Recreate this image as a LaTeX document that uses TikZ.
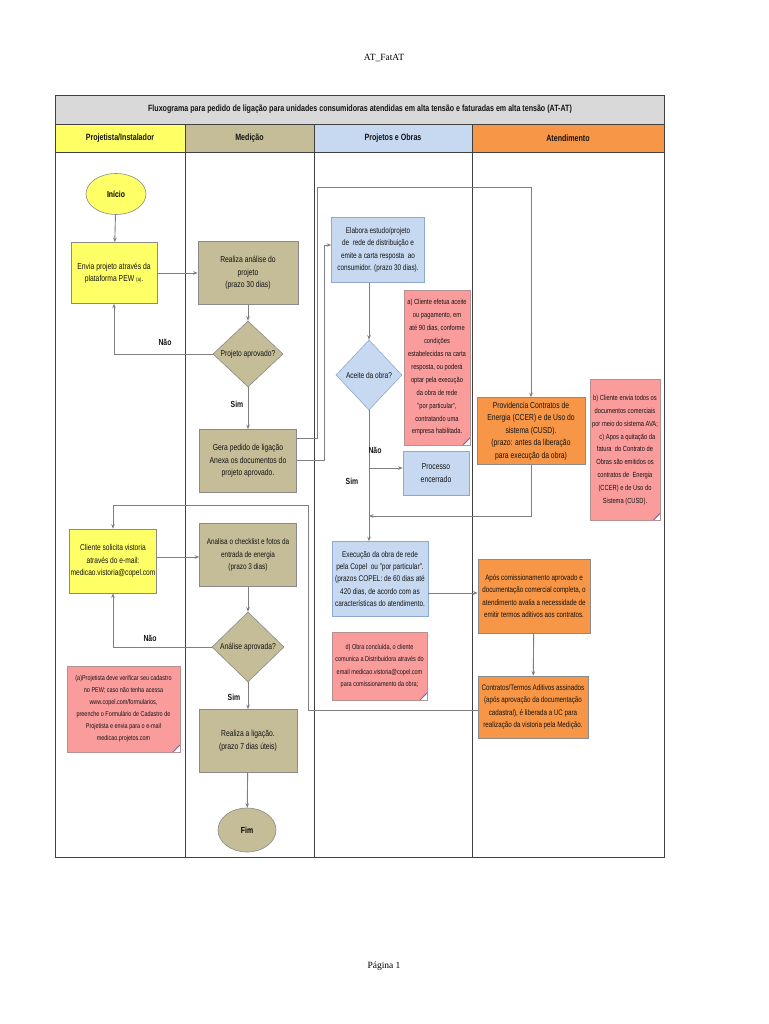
\documentclass[tikz,border=0pt]{standalone}
\usepackage{fontspec}
\setmainfont{Liberation Sans}[FakeStretch=0.78]
\newfontfamily\serifface{Liberation Serif}
\usetikzlibrary{shapes.geometric,arrows.meta}
\definecolor{yel}{HTML}{FFFF66}
\definecolor{tan}{HTML}{C4BD97}
\definecolor{lblue}{HTML}{C6D9F1}
\definecolor{bluedraw}{HTML}{8EA9CF}
\definecolor{orng}{HTML}{F79646}
\definecolor{pink}{HTML}{FA9C9C}
\definecolor{pinkdraw}{HTML}{B89090}
\definecolor{titlegray}{HTML}{D9D9D9}
\definecolor{linegray}{HTML}{8A8A8A}
\definecolor{flowgray}{HTML}{7F7F7F}
\definecolor{foldc}{HTML}{6E6EA8}
\begin{document}
\begin{tikzpicture}[x=1pt,y=-1pt,
  box/.style={draw=linegray, line width=0.6pt, align=center, inner sep=1pt,
    font=\fontsize{8.7}{12.6}\selectfont, text=black!92},
  projbox/.style={box, fill=yel},
  medbox/.style={box, fill=tan},
  pobbox/.style={box, fill=lblue, draw=bluedraw},
  atdbox/.style={box, fill=orng},
  notebox/.style={box, fill=pink, draw=pinkdraw,
    path picture={
      \fill[white] (path picture bounding box.south east) -- ++(-7,0) -- ++(7,-7) -- cycle;
      \fill[foldc!60!pink] (path picture bounding box.south east) ++(-7,0) -- ++(7,-7) -- ++(-2,1) -- cycle;
      \draw[foldc, line width=0.8pt] (path picture bounding box.south east) ++(-7,0) -- ++(7,-7);
    }},
  decis/.style={diamond, draw=linegray, line width=0.6pt, inner sep=0pt},
  term/.style={ellipse, draw=linegray, line width=0.6pt, inner sep=0pt,
    font=\bfseries\fontsize{8.8}{10}\selectfont},
  flow/.style={draw=flowgray, line width=0.9pt},
  arr/.style={flow, -{Stealth[length=4.5pt,width=3.6pt]}},
  lbl/.style={font=\bfseries\fontsize{8.8}{10}\selectfont, text=black!92},
  hdr/.style={font=\bfseries\fontsize{9.1}{10}\selectfont, text=black!92},
  frame/.style={draw=black!75, line width=0.9pt}
]
\useasboundingbox (0,0) rectangle (768,1024);
\fill[white] (0,0) rectangle (768,1024);

% page header / footer
\node[font=\serifface\fontsize{9.5}{11}\selectfont] (pghead) at (384,58) {AT\_FatAT};
\node[font=\serifface\fontsize{9.5}{11}\selectfont] (pgfoot) at (384,966) {Página 1};

% frame and lanes
\filldraw[frame, fill=titlegray] (55,95) rectangle (664,124);
\filldraw[frame, fill=yel] (55,124) rectangle (185,152);
\filldraw[frame, fill=tan] (185,124) rectangle (314,152);
\filldraw[frame, fill=lblue] (314,124) rectangle (472,152);
\filldraw[frame, fill=orng] (472,124) rectangle (664,152);
\draw[frame] (55,95) rectangle (664,857);
\draw[frame] (185,152) -- (185,857);
\draw[frame] (314,152) -- (314,857);
\draw[frame] (472,152) -- (472,857);
\node[hdr] (title) at (360,109.5) {Fluxograma para pedido de ligação para unidades consumidoras atendidas em alta tensão e faturadas em alta tensão (AT-AT)};
\node[hdr] (h1) at (120,138) {Projetista/Instalador};
\node[hdr] (h2) at (249.5,138) {Medição};
\node[hdr] (h3) at (393,138) {Projetos e Obras};
\node[hdr] (h4) at (568,138) {Atendimento};

% Projetista lane
\node[term, fill=yel, minimum width=60, minimum height=41] (inicio) at (116,194) {Início};
\node[projbox, minimum width=86, minimum height=61] (envia) at (114,273) {Envia projeto através da\\plataforma PEW {\fontsize{5.5}{6}\selectfont (a)}.};
\node[projbox, minimum width=87, minimum height=64, font=\fontsize{8.5}{12.6}\selectfont] (cliente) at (113,561) {Cliente solicita vistoria\\através do e-mail:\\medicao.vistoria@copel.com};
\node[notebox, minimum width=113, minimum height=86, font=\fontsize{7}{12}\selectfont] (noteproj) at (123.5,709) {(a)Projetista deve verificar seu cadastro\\no PEW; caso não tenha acessa\\www.copel.com/formularios,\\preenche o Formulário de Cadastro de\\Projetista e envia para o e-mail\\medicao.projetos.com};

% Medicao lane
\node[medbox, minimum width=100, minimum height=63] (realiza) at (248,273) {Realiza análise do\\projeto\\(prazo 30 dias)};
\node[decis, fill=tan, minimum width=70, minimum height=66,
  label={[font=\fontsize{8.6}{10}\selectfont, text=black!92]center:Projeto aprovado?}] (projaprov) at (248,354) {};
\node[medbox, minimum width=97, minimum height=63] (gera) at (248,461) {Gera pedido de ligação\\Anexa os documentos do\\projeto aprovado.};
\node[medbox, minimum width=97, minimum height=63, font=\fontsize{8.2}{12.4}\selectfont] (analisa) at (248,555) {Analisa o checklist e fotos da\\entrada de energia\\(prazo 3 dias)};
\node[decis, fill=tan, minimum width=72, minimum height=70,
  label={[font=\fontsize{8.6}{10}\selectfont, text=black!92]center:Análise aprovada?}] (analaprov) at (248,647) {};
\node[medbox, minimum width=98, minimum height=63] (ligacao) at (248,741) {Realiza a ligação.\\(prazo 7 dias úteis)};
\node[term, fill=tan, minimum width=58, minimum height=44] (fim) at (247,830) {Fim};

% Projetos e Obras lane
\node[pobbox, minimum width=93, minimum height=65, font=\fontsize{8.2}{12.4}\selectfont] (elabora) at (378,250) {Elabora estudo/projeto\\de\ \ rede de distribuição e\\emite a carta resposta\ \ ao\\consumidor. (prazo 30 dias).};
\node[decis, fill=lblue, draw=bluedraw, minimum width=66, minimum height=70,
  label={[font=\fontsize{8.4}{10}\selectfont, text=black!92]center:Aceite da obra?}] (aceite) at (369,375) {};
\node[notebox, minimum width=66, minimum height=155, font=\fontsize{7.4}{12.9}\selectfont] (notea) at (437,367.5) {a) Cliente efetua aceite\\ou pagamento, em\\até 90 dias, conforme\\condições\\estabelecidas na carta\\resposta, ou poderá\\optar pela execução\\da obra de rede\\"por particular",\\contratando uma\\empresa habilitada.};
\node[pobbox, minimum width=66, minimum height=44] (processo) at (436,473) {Processo\\encerrado};
\node[pobbox, minimum width=96, minimum height=75, font=\fontsize{8.3}{12.2}\selectfont] (execucao) at (380,579) {Execução da obra de rede\\pela Copel\ \ ou "por particular".\\(prazos COPEL: de 60 dias até\\420 dias, de acordo com as\\características do atendimento.};
\node[notebox, minimum width=95, minimum height=68, font=\fontsize{7.1}{12.4}\selectfont] (noted) at (379.5,666) {d) Obra concluída, o cliente\\comunica a Distribuidora através do\\email medicao.vistoria@copel.com\\para comissionamento da obra;};

% Atendimento lane
\node[atdbox, minimum width=108, minimum height=67] (providencia) at (531,431) {Providencia Contratos de\\Energia (CCER) e de Uso do\\sistema (CUSD).\\(prazo: antes da liberação\\para execução da obra)};
\node[notebox, minimum width=70, minimum height=141, font=\fontsize{7.4}{12.9}\selectfont] (noteb) at (625,450) {b) Cliente envia todos os\\documentos comerciais\\por meio do sistema AVA;\\\ \ \ c) Apos a quitação da\\fatura\ \ do Contrato de\\Obras são emitidos os\\contratos de\ \ Energia\\(CCER) e de Uso do\\Sistema (CUSD).};
\node[atdbox, minimum width=112, minimum height=74, font=\fontsize{8}{12.2}\selectfont] (apos) at (534,596) {Após comissionamento aprovado e\\documentação comercial completa, o\\atendimento avalia a necessidade de\\emitir termos aditivos aos contratos.};
\node[atdbox, minimum width=110, minimum height=62, font=\fontsize{8}{12.2}\selectfont] (contratos) at (533,707) {Contratos/Termos Aditivos assinados\\(após aprovação da documentação\\cadastral), é liberada a UC para\\realização da vistoria pela Medição.};

% connectors
\draw[arr] (inicio) -- (envia);
\draw[arr] (envia.east) -- (realiza.west);
\draw[arr] (realiza) -- (projaprov);
\draw[arr] (projaprov.west) -| (envia.south);
\draw[arr] (projaprov) -- (gera);
\coordinate (g1) at (317,438);
\coordinate (g1top) at (317,187);
\draw[arr] (gera.east |- g1) -- (g1) -- (g1top) -| (providencia.north);
\coordinate (g2) at (324,460);
\coordinate (g2top) at (324,245);
\draw[arr] (gera.east |- g2) -- (g2) -- (g2top) -- (elabora.west |- g2top);
\draw[arr] (aceite.north |- elabora.south) -- (aceite.north);
\draw[arr] (aceite.south) -- (aceite.south |- execucao.north);
\coordinate (naoline) at (369,468);
\draw[arr] (aceite.south |- naoline) -- (processo.west |- naoline);
\coordinate (pj) at (531,516);
\draw[arr] (providencia.south) -- (pj) -- (aceite.south |- pj);
\coordinate (ex) at (428,593);
\draw[arr] (execucao.east |- ex) -- (apos.west |- ex);
\draw[arr] (apos) -- (contratos);
\coordinate (c1) at (308,710);
\coordinate (c2) at (308,505);
\draw[arr] (contratos.west |- c1) -- (c1) -- (c2) -| (cliente.north);
\coordinate (cl) at (156,557);
\draw[arr] (cliente.east |- cl) -- (analisa.west |- cl);
\draw[arr] (analisa) -- (analaprov);
\draw[arr] (analaprov.west) -| (cliente.south);
\draw[arr] (analaprov) -- (ligacao);
\draw[arr] (ligacao) -- (fim);

% labels
\node[lbl] (l1) at (165,342) {Não};
\node[lbl] (l2) at (237,404) {Sim};
\node[lbl] (l3) at (375,450) {Não};
\node[lbl] (l4) at (352,481) {Sim};
\node[lbl] (l5) at (150,638) {Não};
\node[lbl] (l6) at (234,697) {Sim};
\end{tikzpicture}
\end{document}
